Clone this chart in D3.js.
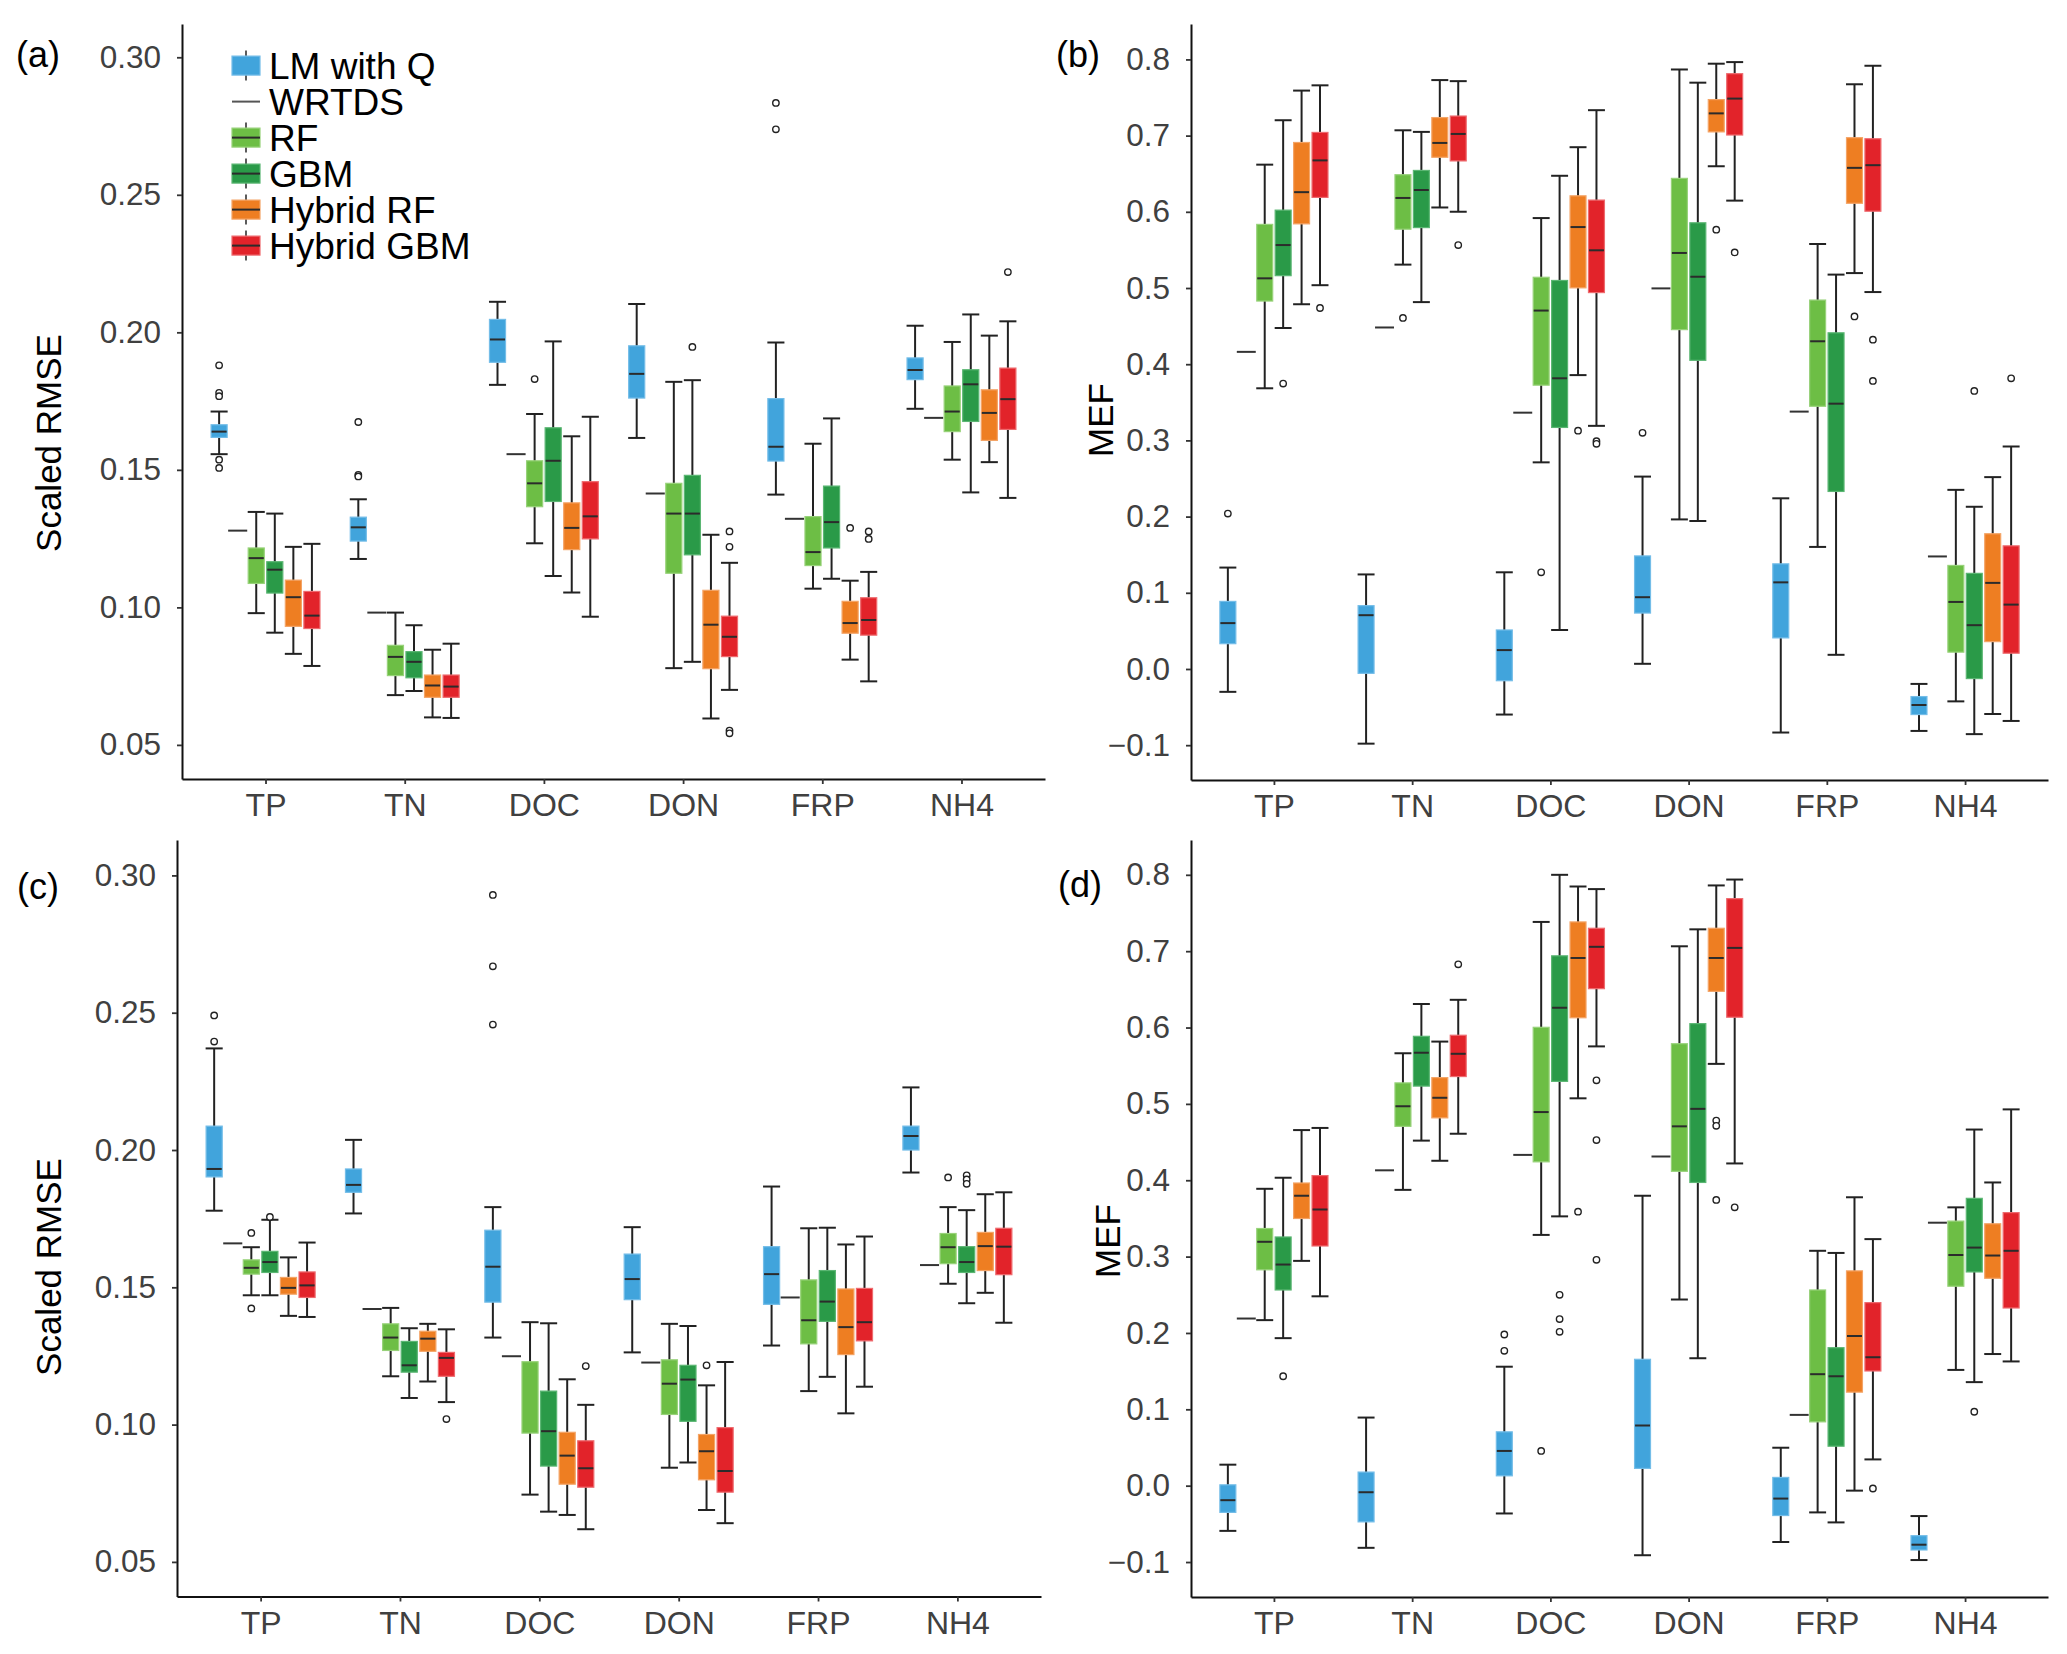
<!DOCTYPE html>
<html><head><meta charset="utf-8">
<script src="https://cdn.jsdelivr.net/npm/d3@7/dist/d3.min.js"></script>
<style>body{margin:0;background:#fff}text{font-family:"Liberation Sans",Arial,sans-serif}</style>
</head><body><svg id="chart" width="2067" height="1654"></svg>
<script>
// ---------- DATA ----------
const categories = ["TP","TN","DOC","DON","FRP","NH4"];
const methods = ["LM with Q","WRTDS","RF","GBM","Hybrid RF","Hybrid GBM"];
const rmseTicks = [0.05,0.10,0.15,0.20,0.25,0.30];
const rmseTickLabels = ["0.05","0.10","0.15","0.20","0.25","0.30"];
const mefTicks = [-0.1,0,0.1,0.2,0.3,0.4,0.5,0.6,0.7,0.8];
const mefTickLabels = ["\u22120.1","0.0","0.1","0.2","0.3","0.4","0.5","0.6","0.7","0.8"];
// each box: [lower whisker, q1, median, q3, upper whisker]
// ---- panel (a) Scaled RMSE ----
const aLM   = [[0.1557,0.1618,0.1639,0.1664,0.1712],[0.1176,0.1241,0.1291,0.1328,0.1393],[0.1809,0.1891,0.1974,0.2047,0.2111],[0.1616,0.1761,0.1849,0.1951,0.2103],[0.141,0.1532,0.1584,0.1759,0.1963],[0.1722,0.1828,0.1863,0.1907,0.2024]];
const aLMOut = [[0.188,0.178,0.1768,0.1537,0.1507],[0.1674,0.1482,0.1476],[],[],[0.2834,0.2738],[]];
const aWRTDS = [0.1279,0.0981,0.1557,0.1414,0.1322,0.1689];
const aRF   = [[0.0979,0.1087,0.1179,0.1216,0.1347],[0.0681,0.0752,0.082,0.0862,0.0981],[0.1233,0.1366,0.1451,0.1533,0.1703],[0.0779,0.1124,0.1341,0.1451,0.182],[0.1068,0.1152,0.1201,0.133,0.1595],[0.1537,0.1639,0.1712,0.1805,0.1965]];
const aRFOut = [[],[],[0.183],[],[],[]];
const aGBM  = [[0.0908,0.1052,0.1137,0.1166,0.1341],[0.0696,0.0744,0.0802,0.0839,0.0935],[0.1114,0.1385,0.1533,0.1653,0.1967],[0.0802,0.1191,0.1341,0.148,0.1826],[0.1104,0.1216,0.131,0.1441,0.1687],[0.1418,0.1676,0.1811,0.1864,0.2065]];
const aGBMOut = [[],[],[],[0.1947],[],[]];
const aHRF  = [[0.0831,0.0931,0.1037,0.1099,0.122],[0.06,0.0673,0.0716,0.0754,0.0846],[0.1054,0.121,0.1289,0.138,0.1622],[0.0596,0.0777,0.0937,0.1062,0.1264],[0.081,0.0906,0.0943,0.1022,0.1097],[0.1528,0.1607,0.1707,0.1791,0.1988]];
const aHRFOut = [[],[],[],[],[0.1289],[]];
const aHGBM = [[0.0787,0.0923,0.097,0.1058,0.1231],[0.0598,0.0673,0.0712,0.0754,0.0868],[0.0966,0.1249,0.1331,0.1457,0.1693],[0.07,0.0821,0.0893,0.0968,0.1162],[0.0731,0.0899,0.0954,0.1035,0.1129],[0.1398,0.1647,0.1757,0.187,0.204]];
const aHGBMOut = [[],[],[],[0.1276,0.122,0.0552,0.0542],[0.1276,0.1249],[0.2219]];
// ---- panel (b) MEF ----
const bLM   = [[-0.030,0.0332,0.0602,0.0887,0.1331],[-0.098,-0.0057,0.0706,0.0831,0.1241],[-0.0598,-0.0154,0.0248,0.0512,0.1269],[0.0068,0.0734,0.0942,0.1484,0.2525],[-0.0834,0.0408,0.1137,0.138,0.224],[-0.0813,-0.0598,-0.0473,-0.0362,-0.0196]];
const bLMOut = [[0.2039],[],[],[0.31],[],[]];
const bWRTDS = [0.4162,0.4482,0.3364,0.4995,0.3378,0.1477];
const bRF   = [[0.3684,0.4829,0.5127,0.5835,0.6619],[0.5307,0.5772,0.6182,0.6487,0.707],[0.2712,0.3725,0.4704,0.5141,0.5918],[0.1963,0.4454,0.546,0.6439,0.7868],[0.1602,0.3448,0.4301,0.4842,0.5578],[-0.0425,0.0221,0.088,0.1359,0.2351]];
const bRFOut = [[],[0.4607],[0.1269],[],[],[]];
const bGBM  = [[0.4475,0.5162,0.5564,0.6022,0.7202],[0.4815,0.5793,0.6286,0.6543,0.7049],[0.0512,0.317,0.3815,0.5099,0.6473],[0.1942,0.4051,0.5148,0.5856,0.7695],[0.0186,0.233,0.3482,0.4412,0.5176],[-0.0855,-0.0126,0.0575,0.1255,0.2129]];
const bGBMOut = [[0.3746],[],[],[],[],[0.3649]];
const bHRF  = [[0.4787,0.5842,0.6258,0.691,0.7591],[0.6057,0.6716,0.6904,0.7237,0.7729],[0.3857,0.5002,0.58,0.621,0.6848],[0.6598,0.7049,0.7292,0.7473,0.7944],[0.5196,0.6112,0.6577,0.6973,0.7674],[-0.0591,0.0359,0.113,0.1775,0.2518]];
const bHRFOut = [[],[],[0.3128],[0.5765],[0.4627],[]];
const bHGBM = [[0.5037,0.6189,0.6675,0.7042,0.766],[0.6001,0.6668,0.7022,0.7257,0.7715],[0.3191,0.494,0.5495,0.6154,0.7334],[0.6147,0.7008,0.7486,0.7813,0.7965],[0.4947,0.6008,0.6612,0.6959,0.7917],[-0.0682,0.0207,0.0845,0.1616,0.292]];
const bHGBMOut = [[0.4738],[0.5564],[0.299,0.2955],[0.5467],[0.4322,0.3781],[0.3815]];
// ---- panel (c) Scaled RMSE ----
const cLM   = [[0.1779,0.1902,0.1931,0.2087,0.237],[0.1769,0.1846,0.1873,0.1931,0.2037],[0.1317,0.1446,0.1575,0.1708,0.1792],[0.1263,0.1455,0.153,0.1621,0.1719],[0.1288,0.1438,0.1548,0.1648,0.1867],[0.1918,0.2,0.2051,0.2087,0.2228]];
const cLMOut = [[0.249,0.2395],[],[0.2929,0.2669,0.2457],[],[],[]];
const cWRTDS = [0.166,0.1421,0.1249,0.1226,0.1463,0.1581];
const cRF   = [[0.1471,0.1548,0.1571,0.16,0.1646],[0.1176,0.127,0.1317,0.1367,0.1425],[0.0745,0.0969,null,0.1229,0.1373],[0.0843,0.1037,0.1149,0.1236,0.1367],[0.1122,0.1294,0.138,0.1527,0.1715],[0.1513,0.1586,0.1646,0.1696,0.1792]];
const cRFOut = [[0.1698,0.1423],[],[],[],[],[0.19]];
const cGBM  = [[0.1471,0.1554,0.1592,0.1631,0.1746],[0.1097,0.1191,0.1216,0.1303,0.1351],[0.0683,0.0849,0.0976,0.1122,0.1369],[0.0862,0.1012,0.1164,0.1216,0.1359],[0.1174,0.1376,0.1448,0.1561,0.1717],[0.1442,0.1554,0.1592,0.1648,0.1781]];
const cGBMOut = [[0.1756],[],[],[],[],[0.1908,0.1893,0.1877]];
const cHRF  = [[0.1396,0.1475,0.1498,0.1536,0.1609],[0.1157,0.1267,0.1313,0.134,0.1367],[0.0671,0.0783,0.0887,0.0972,0.1165],[0.0689,0.0799,0.0903,0.0964,0.1143],[0.1041,0.1255,0.1355,0.1494,0.1656],[0.148,0.1561,0.165,0.17,0.1839]];
const cHRFOut = [[],[],[],[0.1216],[],[]];
const cHGBM = [[0.1392,0.1463,0.1507,0.1556,0.1663],[0.1082,0.1176,0.1243,0.1263,0.1347],[0.0619,0.0772,0.0841,0.0941,0.1072],[0.0641,0.0754,0.0831,0.0989,0.1228],[0.1138,0.1305,0.1373,0.1496,0.1685],[0.1371,0.1546,0.1648,0.1715,0.1846]];
const cHGBMOut = [[],[0.102],[0.1213],[],[],[]];
// ---- panel (d) MEF ----
const dLM   = [[-0.0592,-0.035,-0.019,0.0011,0.0275],[-0.0814,-0.0474,-0.0086,0.0178,0.0892],[-0.0364,0.0129,0.0455,0.0705,0.1558],[-0.0911,0.0226,0.0788,0.1655,0.3797],[-0.0738,-0.0391,-0.0169,0.0108,0.0497],[-0.0974,-0.0842,-0.0773,-0.0655,-0.0398]];
const dLMOut = [[],[],[0.198,0.1766],[],[],[]];
const dWRTDS = [0.2189,0.413,0.4332,0.4311,0.0927,0.3444];
const dRF   = [[0.2168,0.2827,0.3194,0.3368,0.3888],[0.3874,0.4706,0.4969,0.5275,0.5663],[0.3284,0.4241,0.4893,0.6003,0.7383],[0.2438,0.4117,0.4706,0.5788,0.7064],[-0.035,0.0836,0.146,0.2563,0.3076],[0.1516,0.2612,0.3021,0.3465,0.3645]];
const dRFOut = [[],[],[0.0455],[],[],[]];
const dGBM  = [[0.1932,0.2563,0.2896,0.3257,0.4033],[0.4519,0.5233,0.567,0.5885,0.6308],[0.3527,0.5295,0.6259,0.6939,0.8],[0.1669,0.3971,0.4935,0.6051,0.7286],[-0.0481,0.0517,0.1433,0.1807,0.3048],[0.1356,0.2799,0.3118,0.3763,0.4664]];
const dGBMOut = [[0.1433],[],[0.25,0.2182,0.2015],[],[],[0.0968]];
const dHRF  = [[0.2944,0.3499,0.3797,0.3964,0.4657],[0.4255,0.4817,0.508,0.5344,0.5816],[0.5073,0.6128,0.6911,0.7383,0.7847],[0.5524,0.6474,0.6911,0.73,0.7861],[-0.0065,0.1225,0.196,0.2813,0.3777],[0.1724,0.2716,0.3014,0.343,0.3971]];
const dHRFOut = [[],[],[0.3589],[0.4782,0.4713,0.3742],[],[]];
const dHGBM = [[0.248,0.3139,0.3617,0.4061,0.4685],[0.4609,0.5358,0.5656,0.5899,0.6363],[0.5753,0.6509,0.7057,0.73,0.7813],[0.422,0.6135,0.7043,0.7688,0.7938],[0.0344,0.1502,0.1682,0.2397,0.3229],[0.1627,0.2327,0.3076,0.3576,0.4928]];
const dHGBMOut = [[],[0.6828],[0.5309,0.4526,0.2958],[0.3645],[-0.0037],[]];

// ---------- STYLE ----------
const fills   = {"LM with Q":"#41A4DC","RF":"#6DBE45","GBM":"#2A9A48","Hybrid RF":"#EE7E22","Hybrid GBM":"#E2232A"};
const strokes = {"LM with Q":"#74BDE8","RF":"#98D27A","GBM":"#5BB673","Hybrid RF":"#F4A466","Hybrid GBM":"#EE6B6F"};

const panels = [
  {label:"(a)", title:"Scaled RMSE", lx:16, ly:67, tx:48, ty:443, x0:182, x1:1045, y0:24, y1:779, domain:[0.0376,0.3121], ticks:rmseTicks, tickLabels:rmseTickLabels,
   boxes:{"LM with Q":[aLM,aLMOut],"RF":[aRF,aRFOut],"GBM":[aGBM,aGBMOut],"Hybrid RF":[aHRF,aHRFOut],"Hybrid GBM":[aHGBM,aHGBMOut]}, wrtds:aWRTDS, legend:true},
  {label:"(b)", title:"MEF", lx:1056, ly:67, tx:1100, ty:420, x0:1191, x1:2048, y0:24, y1:780, domain:[-0.1457,0.8465], ticks:mefTicks, tickLabels:mefTickLabels,
   boxes:{"LM with Q":[bLM,bLMOut],"RF":[bRF,bRFOut],"GBM":[bGBM,bGBMOut],"Hybrid RF":[bHRF,bHRFOut],"Hybrid GBM":[bHGBM,bHGBMOut]}, wrtds:bWRTDS},
  {label:"(c)", title:"Scaled RMSE", lx:17, ly:899, tx:48, ty:1267, x0:177, x1:1041, y0:840, y1:1596.5, domain:[0.0374,0.3129], ticks:rmseTicks, tickLabels:rmseTickLabels,
   boxes:{"LM with Q":[cLM,cLMOut],"RF":[cRF,cRFOut],"GBM":[cGBM,cGBMOut],"Hybrid RF":[cHRF,cHRFOut],"Hybrid GBM":[cHGBM,cHGBMOut]}, wrtds:cWRTDS},
  {label:"(d)", title:"MEF", lx:1058, ly:897, tx:1107, ty:1241, x0:1191, x1:2048, y0:840, y1:1597, domain:[-0.1458,0.8456], ticks:mefTicks, tickLabels:mefTickLabels,
   boxes:{"LM with Q":[dLM,dLMOut],"RF":[dRF,dRFOut],"GBM":[dGBM,dGBMOut],"Hybrid RF":[dHRF,dHRFOut],"Hybrid GBM":[dHGBM,dHGBMOut]}, wrtds:dWRTDS}
];

const svg = d3.select("#chart");
svg.append("rect").attr("width",2067).attr("height",1654).attr("fill","#fff");

panels.forEach(p => {
  const g = svg.append("g");
  const x = d3.scalePoint().domain(categories).range([p.x0, p.x1]).padding(0.6);
  const y = d3.scaleLinear().domain(p.domain).range([p.y1, p.y0]);
  const inner = d3.scaleBand().domain(methods).range([-0.4*x.step(), 0.4*x.step()]).paddingInner(0.08).paddingOuter(0.04);
  const bw = inner.bandwidth();
  const cx = (c, m) => x(c) + inner(m) + bw/2;

  // WRTDS lines
  g.selectAll(".wrtds").data(p.wrtds).join("line")
    .attr("x1",(d,i)=>cx(categories[i],"WRTDS")-bw/2-1).attr("x2",(d,i)=>cx(categories[i],"WRTDS")+bw/2+1)
    .attr("y1",d=>y(d)).attr("y2",d=>y(d)).attr("stroke","#333").attr("stroke-width",2);

  Object.entries(p.boxes).forEach(([m,[stats,outs]]) => {
    const bg = g.append("g");
    stats.forEach((s,i) => {
      const c = cx(categories[i], m);
      const [lo,q1,med,q3,hi] = s;
      bg.append("line").attr("x1",c).attr("x2",c).attr("y1",y(lo)).attr("y2",y(hi)).attr("stroke","#222").attr("stroke-width",2);
      [lo,hi].forEach(v => bg.append("line").attr("x1",c-bw/2).attr("x2",c+bw/2).attr("y1",y(v)).attr("y2",y(v)).attr("stroke","#222").attr("stroke-width",2));
      bg.append("rect").attr("x",c-bw/2+0.5).attr("width",bw-1).attr("y",y(q3)).attr("height",y(q1)-y(q3))
        .attr("fill",fills[m]).attr("stroke",strokes[m]).attr("stroke-width",1.2);
      if (med !== null) bg.append("line").attr("x1",c-bw/2+1).attr("x2",c+bw/2-1).attr("y1",y(med)).attr("y2",y(med)).attr("stroke","#2b2b2b").attr("stroke-width",2);
      outs[i].forEach(v => bg.append("circle").attr("cx",c).attr("cy",y(v)).attr("r",3.2).attr("fill","#fff").attr("stroke","#222").attr("stroke-width",1.4));
    });
  });

  // axes
  const yAxis = d3.axisLeft(y).tickValues(p.ticks).tickFormat((d,i)=>p.tickLabels[i]).tickSize(5).tickSizeOuter(0).tickPadding(16);
  const ya = g.append("g").attr("transform",`translate(${p.x0},0)`).call(yAxis);
  const xAxis = d3.axisBottom(x).tickSize(5).tickSizeOuter(0);
  const xa = g.append("g").attr("transform",`translate(0,${p.y1})`).call(xAxis);
  [ya,xa].forEach(a => {
    a.select(".domain").attr("stroke","#111").attr("stroke-width",2);
    a.selectAll(".tick line").attr("stroke","#333").attr("stroke-width",1.8);
    a.selectAll(".tick text").attr("fill","#404040").style("font-family",'"Liberation Sans",Arial,sans-serif');
  });
  ya.selectAll(".tick text").style("font-size","31.5px");
  xa.selectAll(".tick text").style("font-size","32px").attr("y",37).attr("dy",null);

  // titles & panel label
  g.append("text").attr("transform",`translate(${p.tx},${p.ty}) rotate(-90)`).attr("text-anchor","middle").attr("dominant-baseline","central")
    .style("font-size","35px").attr("fill","#000").text(p.title);
  g.append("text").attr("x",p.lx).attr("y",p.ly).style("font-size","36px").attr("fill","#000").text(p.label);

  if (p.legend) {
    const lg = g.append("g");
    methods.forEach((m,i) => {
      const cy = 65.6 + i*36;
      const kx = 232, kw = 28, kc = kx + kw/2;
      if (m === "WRTDS") {
        lg.append("line").attr("x1",kx).attr("x2",kx+kw).attr("y1",cy).attr("y2",cy).attr("stroke","#555").attr("stroke-width",2);
      } else {
        lg.append("line").attr("x1",kc).attr("x2",kc).attr("y1",cy-15).attr("y2",cy+15).attr("stroke","#333").attr("stroke-width",1.6);
        lg.append("rect").attr("x",kx).attr("y",cy-9.5).attr("width",kw).attr("height",19).attr("fill",fills[m]).attr("stroke",strokes[m]).attr("stroke-width",1.2);
        if (m !== "LM with Q") lg.append("line").attr("x1",kx).attr("x2",kx+kw).attr("y1",cy).attr("y2",cy).attr("stroke","#2b2b2b").attr("stroke-width",2);
      }
      lg.append("text").attr("x",269).attr("y",cy+13).style("font-size","37px").attr("fill","#000").text(m);
    });
  }
});
</script></body></html>
